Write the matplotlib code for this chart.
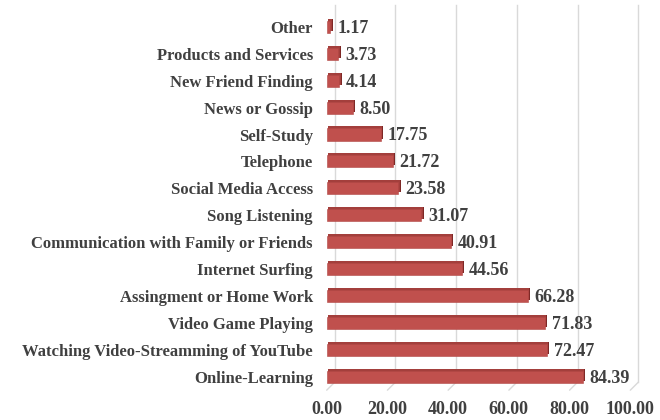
import numpy as np
import matplotlib.pyplot as plt
import matplotlib.transforms as mtransforms

categories = ["Online-Learning", "Watching Video-Streamming of YouTube",
              "Video Game Playing", "Assingment or Home Work", "Internet Surfing",
              "Communication with Family or Friends", "Song Listening",
              "Social Media Access", "Telephone", "Self-Study", "News or Gossip",
              "New Friend Finding", "Products and Services", "Other"]
values = [84.39, 72.47, 71.83, 66.28, 44.56, 40.91, 31.07,
          23.58, 21.72, 17.75, 8.50, 4.14, 3.73, 1.17]
xticks = [0, 20, 40, 60, 80, 100]

plt.rcParams['font.family'] = ['Liberation Serif', 'DejaVu Serif']
plt.rcParams['font.weight'] = 'bold'
text_color = '#404040'

fig = plt.figure(figsize=(6.6, 4.2), dpi=100)
ax = fig.add_axes([0.495, 0.071, 0.46, 0.897])

y = np.arange(len(categories))

# back wall grid (shifted for the 3d depth) + floor diagonals
wall = mtransforms.ScaledTranslation(8 / 100, 8 / 100, fig.dpi_scale_trans)
for t in xticks:
    ax.plot([t, t], [-0.5, len(categories) - 0.5], color='#D9D9D9', lw=1,
            transform=ax.transData + wall, clip_on=False, zorder=0)
    ax.annotate("", xy=(t, -0.5), xytext=(8, 8), textcoords='offset pixels',
                arrowprops=dict(arrowstyle='-', color='#D9D9D9', lw=1,
                                shrinkA=0, shrinkB=0), zorder=0)

# 3d look: darker copies shifted up/right behind the front face
top = mtransforms.ScaledTranslation(1.5 / 100, 2 / 100, fig.dpi_scale_trans)
side = mtransforms.ScaledTranslation(2.5 / 100, 2 / 100, fig.dpi_scale_trans)
ax.barh(y, values, height=0.45, color='#7E2826', transform=ax.transData + side, zorder=2)
ax.barh(y, values, height=0.45, color='#A33F3C', transform=ax.transData + top, zorder=2)
ax.barh(y, values, height=0.45, color='#C0504D', edgecolor='#B24744', linewidth=0.4, zorder=3)

for yi, v in zip(y, values):
    ax.annotate("{:.2f}".format(v), (v, yi), xytext=(5, -1), textcoords='offset points',
                va='center', ha='left', fontsize=13, fontweight='bold', color=text_color)

ax.set_xlim(0, 100)
ax.set_ylim(-0.5, len(categories) - 0.5)
ax.set_xticks(xticks)
ax.set_xticklabels(["{:.2f}".format(t) for t in xticks])
ax.set_yticks(y)
ax.set_yticklabels(categories)
ax.tick_params(axis='x', length=0, labelsize=13, colors=text_color, pad=8)
ax.tick_params(axis='y', length=0, labelsize=12, colors=text_color, pad=10)
for lab in ax.get_xticklabels() + ax.get_yticklabels():
    lab.set_fontweight('bold')

for s in ax.spines.values():
    s.set_visible(False)

fig.savefig("out.png", dpi=100)
